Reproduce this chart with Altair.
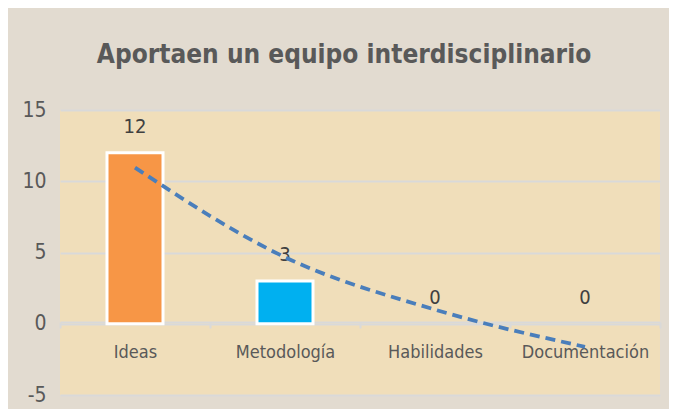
import altair as alt
import pandas as pd

categories = ["Ideas", "Metodología", "Habilidades", "Documentación"]
values = [12, 3, 0, 0]
bar_colors = ["#F79646", "#00B0F0", "#A5A5A5", "#FFC000"]
trend = [10.96, 4.67, 0.99, -1.62]
y_ticks = [-5, 0, 5, 10, 15]

df = pd.DataFrame({"cat": categories, "value": values, "color": bar_colors, "trend": trend})

FONT = "DejaVu Sans Condensed, sans-serif"

x = alt.X("cat:N", sort=categories, title=None,
          scale=alt.Scale(paddingInner=0, paddingOuter=0),
          axis=alt.Axis(orient="bottom", offset=-73, labelAngle=0, labelFont=FONT,
                        labelFontSize=18, labelColor="#595959", labelPadding=15,
                        domainColor="#D9D9D9", domainWidth=2, tickColor="#D9D9D9",
                        tickWidth=2, tickSize=6, tickBand="extent", grid=False))
y = alt.Y("value:Q", title=None,
          scale=alt.Scale(domain=[-5, 15], nice=False, zero=False),
          axis=alt.Axis(values=y_ticks, labelExpr="'' + datum.value", labelFont=FONT,
                        labelFontSize=21, labelColor="#595959", labelPadding=14,
                        domain=False, ticks=False, gridColor="#D9D9D9", gridWidth=2))

bars = alt.Chart(df).mark_bar(size=56, strokeWidth=3).encode(
    x=x, y=y,
    fill=alt.Color("color:N", scale=None),
    stroke=alt.condition("datum.value > 0", alt.value("white"), alt.value(None)),
)

labels = alt.Chart(df).mark_text(baseline="bottom", dy=-16, font=FONT, fontSize=20,
                                 color="#404040").encode(
    x=alt.X("cat:N", sort=categories),
    y=alt.Y("value:Q"),
    text=alt.Text("value:Q"),
)

line = alt.Chart(df).mark_line(color="#4A7EBB", strokeWidth=3.8, strokeDash=[10, 6],
                               interpolate="monotone").encode(
    x=alt.X("cat:N", sort=categories),
    y=alt.Y("trend:Q"),
)

chart = alt.layer(bars, labels, line).properties(
    width=600, height=285,
    autosize=alt.AutoSizeParams(type="none"),
    padding={"left": 52, "top": 102, "right": 9, "bottom": 14},
    background="#E2DBD0",
    title=alt.TitleParams("Aportaen un equipo interdisciplinario", font=FONT,
                          fontSize=26, fontWeight="bold", color="#595959",
                          anchor="middle", frame="group", dx=-16, offset=31),
).configure_view(fill="#F0DEBA", stroke=None)

chart.save("out.html", embed_options={"renderer": "svg", "actions": False})
